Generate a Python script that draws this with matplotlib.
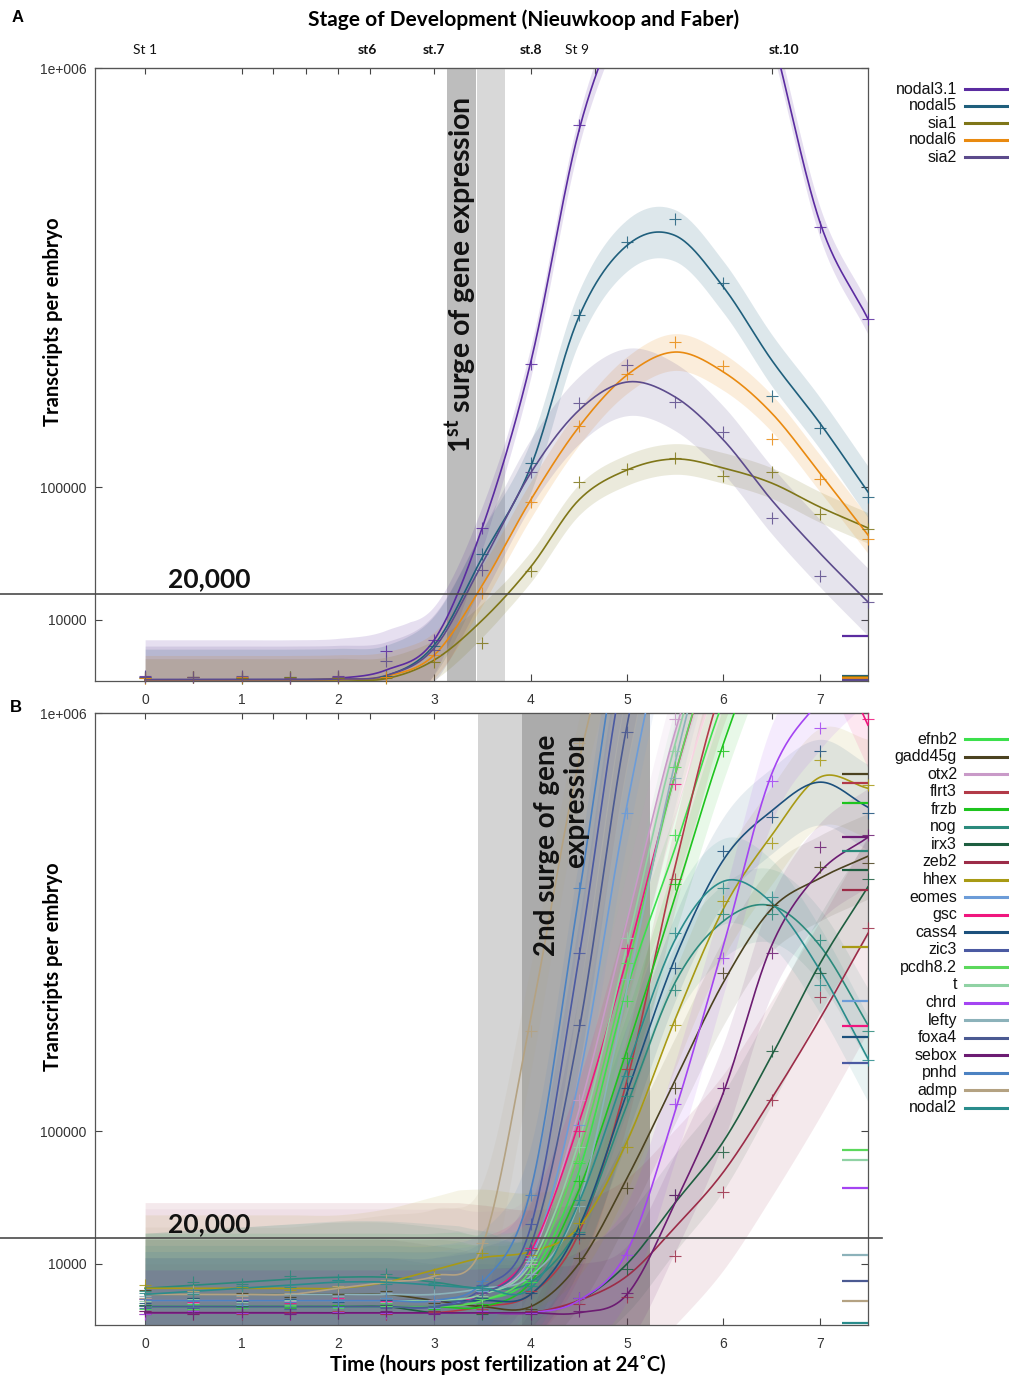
import numpy as np
import matplotlib
matplotlib.use('Agg')
import matplotlib.pyplot as plt
from matplotlib.lines import Line2D

plt.rcParams['font.family'] = ['Liberation Sans', 'DejaVu Sans']
plt.rcParams['mathtext.fontset'] = 'custom'
plt.rcParams['mathtext.rm'] = 'Lato'
plt.rcParams['mathtext.bf'] = 'Lato:bold'

# ---------------- data ----------------
hours = [0, 0.5, 1, 1.5, 2, 2.5, 3, 3.5, 4, 4.5, 5, 5.5, 6, 6.5, 7, 7.5]
hour_ticks = [0, 1, 2, 3, 4, 5, 6, 7]
stage_ticks = [0, 1, 1.33, 1.67, 2, 2.33, 3, 4, 4.67, 6.5]
stage_labels = ['St 1', 'st6', 'st.7', 'st.8', 'St 9', 'st.10']
stage_label_pos = [0, 2.31, 3.0, 4.0, 4.48, 6.63]
stage_label_bold = [False, True, True, True, False, True]
threshold = 20000
y_ticks = [10000, 100000, 1000000]
y_ticklabels = ['10000', '100000', '1e+006']
surge1_A = [(3.13, 3.43, '#bdbdbd'), (3.44, 3.73, '#d8d8d8')]
surge2_B = [(3.45, 3.91, '#d4d4d4'), (3.91, 5.24, '#ababab')]

genes_A = ['nodal3.1', 'nodal5', 'sia1', 'nodal6', 'sia2']
colors_A = ['#5b2ca0', '#1f5f7c', '#7f7618', '#e98a10', '#5c4b8c']
fit_A = [
    [5, 5, 5, 5, 20, 320, 4500, 63000, 270000, 805000, 1250000, 1700000, 1750000, 1120000, 561000, 348700],
    [4, 4, 4, 4, 10, 70, 3450, 40900, 121900, 352600, 505000, 528000, 413000, 274200, 177100, 95100],
    [2, 2, 2, 2, 4, 15, 1170, 9900, 34600, 87200, 118500, 131200, 120700, 104300, 80600, 62300],
    [3, 3, 3, 3, 8, 60, 1800, 24500, 87200, 171700, 249200, 288000, 254100, 191100, 115100, 56700],
    [4, 4, 4, 4, 10, 80, 2900, 37000, 115100, 195000, 237900, 214600, 154600, 87200, 43600, 16600],
]
pts_A = [
    [60, 40, 50, 30, 60, 2400, 4500, 62300, 267400, 822700, 1300000, 1900000, 1800000, 1200000, 548500, 348700],
    [40, 50, 30, 50, 40, 80, 3260, 42900, 126500, 356500, 512900, 568000, 421500, 216100, 170300, 90100],
    [30, 40, 30, 40, 30, 20, 960, 3840, 32200, 105400, 119600, 132300, 111800, 116200, 74200, 61500],
    [30, 50, 40, 30, 50, 40, 1800, 20600, 85300, 173000, 250800, 305800, 264100, 155900, 108600, 53700],
    [50, 40, 60, 30, 50, 1060, 2560, 32800, 116200, 205700, 265700, 207100, 165000, 70700, 29300, 16600],
]
ci_early_A = [0.065, 0.05, 0.035, 0.04, 0.055]   # half-width in sqrt(transcripts / 1e6)
ci_late_A = [0.025, 0.042, 0.025, 0.03, 0.055]
endmark_A = [5390, 80, 43, 17, 3]

genes_B = ['efnb2', 'gadd45g', 'otx2', 'flrt3', 'frzb', 'nog', 'irx3', 'zeb2', 'hhex', 'eomes', 'gsc',
           'cass4', 'zic3', 'pcdh8.2', 't', 'chrd', 'lefty', 'foxa4', 'sebox', 'pnhd', 'admp', 'nodal2']
colors_B = ['#3ce04c', '#4b4220', '#c99ac8', '#b23a48', '#1ec41e', '#2b8a7c', '#1e5e40', '#9c2c48',
            '#a89a14', '#6c9cd8', '#f0167e', '#1c507c', '#4b5aa2', '#5cd85c', '#90d2a4', '#a444f2',
            '#8cb2ba', '#4b5a92', '#6c1c72', '#4c82c2', '#b4a282', '#2a8c8c']
fit_B = [
    [900, 900, 900, 900, 900, 900, 900, 1600, 6400, 62500, 302500, 608400, 1040400, 1440000, 1690000, 1690000],
    [2500, 2500, 2500, 2500, 2500, 2500, 1600, 900, 900, 10000, 57600, 160000, 313600, 462400, 532900, 586800],
    [1600, 1600, 1600, 1600, 1600, 1600, 1600, 2500, 12100, 122500, 435600, 940900, 1440000, 1690000, 1690000, 1562500],
    [400, 400, 400, 400, 400, 400, 400, 900, 2500, 22500, 160000, 562500, 1102500, 1440000, 1440000, 1210000],
    [900, 900, 900, 900, 900, 900, 900, 900, 4900, 48400, 202500, 490000, 902500, 1322500, 1562500, 1690000],
    [3600, 4225, 4900, 5625, 6084, 6084, 4900, 3600, 4900, 25600, 129600, 313600, 435600, 469200, 384400, 240100],
    [900, 900, 900, 900, 900, 900, 400, 400, 400, 1600, 10000, 40000, 90000, 193600, 348100, 512700],
    [400, 400, 400, 400, 400, 400, 400, 400, 400, 1600, 6400, 25600, 62500, 136900, 250000, 409600],
    [3600, 3600, 3600, 3600, 3600, 4900, 8100, 12100, 14400, 25600, 90000, 250000, 462400, 640000, 801000, 769100],
    [900, 900, 900, 900, 900, 900, 900, 2500, 12100, 160000, 722500, 1440000, 1822500, 1822500, 1690000, 1562500],
    [1600, 1600, 1600, 1600, 1600, 1600, 1600, 2500, 14400, 108900, 360000, 810000, 1322500, 1690000, 1322500, 960400],
    [1600, 1600, 1600, 1600, 1600, 1600, 1600, 1600, 2500, 25600, 144400, 360000, 577600, 705600, 786800, 715700],
    [900, 900, 900, 900, 900, 900, 900, 3600, 25600, 360000, 1210000, 1690000, 1960000, 1960000, 1822500, 1690000],
    [900, 900, 900, 900, 900, 900, 900, 1600, 8100, 78400, 336400, 810000, 1322500, 1690000, 1690000, 1690000],
    [1600, 1600, 1600, 1600, 1600, 1600, 1600, 2500, 10000, 90000, 384400, 902500, 1440000, 1690000, 1690000, 1690000],
    [400, 400, 400, 400, 400, 400, 400, 400, 400, 1600, 14400, 122500, 384400, 810000, 1040400, 1210000],
    [2500, 2500, 2500, 2500, 2500, 2500, 2500, 3600, 6400, 40000, 302500, 846400, 1440000, 1690000, 1690000, 1562500],
    [900, 900, 900, 900, 900, 900, 900, 2500, 16900, 230400, 960400, 1690000, 1960000, 1960000, 1822500, 1690000],
    [400, 400, 400, 400, 400, 400, 400, 400, 400, 400, 2500, 40000, 144400, 384400, 547600, 635200],
    [1600, 1600, 1600, 1600, 1600, 1600, 1600, 4900, 48400, 490000, 1440000, 2102500, 2250000, 2250000, 2102500, 1960000],
    [2500, 2500, 2500, 2500, 3600, 4900, 6400, 16900, 250000, 846400, 1440000, 1690000, 1690000, 1562500, 1440000, 1210000],
    [2500, 3025, 3600, 4225, 4900, 4900, 4225, 3600, 3600, 40000, 176400, 396900, 525600, 476100, 336400, 189200],
]
pts_B = [
    [700, 1200, 800, 1000, 900, 1300, 700, 2000, 5000, 70000, 280000, 640000, 1020000, 1500000, 1750000, 1600000],
    [3200, 2000, 2800, 2100, 2600, 3000, 1300, 1100, 700, 12000, 50000, 150000, 330000, 470000, 560000, 570000],
    [2000, 1300, 1800, 1500, 1900, 1400, 1700, 3000, 10000, 135000, 400000, 980000, 1500000, 1650000, 1700000, 1500000],
    [500, 300, 450, 350, 500, 300, 450, 700, 3000, 20000, 175000, 530000, 1150000, 1400000, 1450000, 1250000],
    [1100, 700, 1000, 800, 1100, 900, 700, 1200, 4000, 55000, 190000, 520000, 880000, 1350000, 1700000, 1650000],
    [3000, 5000, 4400, 6500, 5500, 7000, 4200, 4000, 5600, 23000, 140000, 300000, 450000, 450000, 396000, 230000],
    [1100, 800, 1000, 700, 900, 1100, 500, 300, 500, 2000, 8500, 45000, 80000, 200000, 330000, 530000],
    [350, 500, 300, 450, 400, 350, 500, 400, 500, 1200, 2100, 12700, 47200, 135200, 287000, 420000],
    [4200, 3000, 3900, 3300, 4000, 5500, 7000, 14000, 13000, 28000, 85000, 240000, 480000, 620000, 852000, 778000],
    [1000, 800, 1100, 700, 900, 1000, 800, 3000, 12000, 107000, 700000, 1500000, 1800000, 1850000, 1650000, 1500000],
    [1800, 1400, 1700, 1300, 1900, 1500, 1600, 2800, 16000, 100000, 380000, 780000, 1350000, 1650000, 1300000, 980000],
    [1300, 1900, 1500, 1800, 1400, 1700, 1500, 2000, 2800, 22000, 150000, 340000, 600000, 690000, 880000, 700000],
    [800, 1000, 900, 1100, 800, 900, 1000, 4200, 27000, 370000, 1250000, 1700000, 1900000, 2000000, 1800000, 1650000],
    [1000, 700, 900, 1100, 800, 1000, 900, 1800, 9000, 72000, 350000, 830000, 1300000, 1700000, 1650000, 1700000],
    [1500, 1800, 1400, 1700, 1600, 1900, 1500, 2200, 11000, 85000, 400000, 880000, 1450000, 1700000, 1680000, 1700000],
    [300, 500, 400, 350, 450, 400, 300, 500, 400, 2000, 13000, 130000, 360000, 790000, 951000, 1200000],
    [2200, 2800, 2400, 2600, 2300, 2700, 2500, 3200, 7000, 38000, 320000, 800000, 1400000, 1700000, 1650000, 1600000],
    [1000, 800, 900, 700, 1000, 800, 900, 2800, 15000, 240000, 940000, 1650000, 1950000, 1900000, 1850000, 1700000],
    [500, 350, 450, 300, 400, 500, 350, 450, 300, 500, 2800, 45000, 150000, 370000, 610000, 640000],
    [1800, 1500, 1700, 1400, 1600, 1900, 1500, 5200, 45000, 510000, 1400000, 1800000, 2200000, 2300000, 2100000, 1900000],
    [2000, 3000, 2300, 2800, 4000, 5500, 6000, 18000, 230000, 904000, 1400000, 1700000, 1650000, 1600000, 1400000, 1250000],
    [2800, 2600, 4000, 3800, 5500, 4500, 4600, 3200, 4000, 42000, 165000, 410000, 510000, 490000, 309000, 187000],
]
ci_early_B = [0.10, 0.09, 0.15, 0.08, 0.11, 0.09, 0.08, 0.18, 0.12, 0.09, 0.10,
              0.08, 0.08, 0.12, 0.10, 0.07, 0.10, 0.08, 0.07, 0.09, 0.11, 0.10]
ci_late_B = [0.06, 0.07, 0.08, 0.07, 0.06, 0.06, 0.08, 0.16, 0.08, 0.06, 0.07,
             0.07, 0.06, 0.06, 0.06, 0.08, 0.07, 0.06, 0.08, 0.06, 0.07, 0.07]
endmark_B = [None, 810500, None, 784300, 727600, 599800, 552800, 505200, 381500, 280300, 238700,
             221500, 183300, 81700, 72700, 50100, 13100, 5170, 635800, None, 1540, 11]


# ---------------- helpers ----------------
def fwd(v):
    return np.sqrt(np.clip(v, 0, None))


def inv(s):
    return np.square(s)


def smooth(x, y, xn):
    """Catmull-Rom cubic through the knots (drawing only)."""
    x = np.asarray(x, float); y = np.asarray(y, float)
    h = np.diff(x); n = len(x); m = np.zeros(n)
    m[1:-1] = (y[2:] - y[:-2]) / (x[2:] - x[:-2])
    m[0] = (y[1] - y[0]) / h[0]; m[-1] = (y[-1] - y[-2]) / h[-1]
    idx = np.clip(np.searchsorted(x, xn) - 1, 0, n - 2)
    t = (xn - x[idx]) / h[idx]
    h00 = 2 * t**3 - 3 * t**2 + 1; h10 = t**3 - 2 * t**2 + t
    h01 = -2 * t**3 + 3 * t**2; h11 = t**3 - t**2
    return np.clip(h00 * y[idx] + h10 * h[idx] * m[idx] + h01 * y[idx + 1] + h11 * h[idx] * m[idx + 1], 0, None)


W, H = 1009, 1377
fig = plt.figure(figsize=(W / 100, H / 100), dpi=100)
axA = fig.add_axes([95 / W, 1 - 681 / H, 773 / W, 613 / H])
axB = fig.add_axes([95 / W, 1 - 1325 / H, 773 / W, 612 / H])

tt = np.linspace(0, 7.5, 600)
SCALE = 1e6


def draw_panel(ax, genes, colors, fits, pts, ci_e, ci_l, marks, blend, band_alpha):
    ax.set_yscale('function', functions=(fwd, inv))
    ax.set_xlim(-0.52, 7.5)
    ax.set_ylim(0, 1e6)
    curves = []
    for g, c, f, ce, cl in zip(genes, colors, fits, ci_e, ci_l):
        s = smooth(hours, np.sqrt(np.array(f) / SCALE), tt)
        w = np.clip((tt - blend[0]) / (blend[1] - blend[0]), 0, 1)
        ci = ce + (cl - ce) * w
        lo = np.clip(s - ci, 0, None) ** 2 * SCALE
        hi = (s + ci) ** 2 * SCALE
        ax.fill_between(tt, lo, hi, color=c, alpha=band_alpha, lw=0, zorder=2)
        curves.append(s ** 2 * SCALE)
    for c, cv in zip(colors, curves):
        ax.plot(tt, cv, color=c, lw=1.2, zorder=3)
    for c, p in zip(colors, pts):
        p = np.array(p, float)
        keep = p <= 1e6
        ax.plot(np.array(hours)[keep], p[keep], ls='none', marker='+', ms=8, mew=0.8,
                color=c, alpha=0.85, zorder=4, clip_on=False)
    for c, m in zip(colors, marks):
        if m is not None:
            ax.hlines(m, 7.23, 7.5, color=c, lw=1.6, zorder=5)
    ax.axhline(threshold, xmin=-0.123, xmax=1.018, clip_on=False, color='#4a4a4a', lw=1.2, zorder=6)
    ax.set_yticks(y_ticks)
    ax.set_yticklabels(y_ticklabels)
    ax.yaxis.set_minor_locator(matplotlib.ticker.NullLocator())
    ax.set_xticks(hour_ticks)
    ax.set_xticklabels([str(h) for h in hour_ticks])
    ax.tick_params(direction='in', length=5, width=0.8, colors='#333333', labelsize=10,
                   right=True, top=False, color='#444444')
    ax.tick_params(axis='x', pad=9)
    ax.tick_params(axis='y', pad=6)
    for sp in ax.spines.values():
        sp.set_color('#555555'); sp.set_linewidth(0.9)
    sec = ax.secondary_xaxis('top')
    sec.set_xticks(stage_ticks)
    sec.tick_params(direction='in', length=4, width=0.8, labeltop=False, color='#444444')
    sec.spines['top'].set_color('#555555')


draw_panel(axA, genes_A, colors_A, fit_A, pts_A, ci_early_A, ci_late_A, endmark_A, (2.75, 3.75), 0.15)
draw_panel(axB, genes_B, colors_B, fit_B, pts_B, ci_early_B, ci_late_B, endmark_B, (3.25, 4.5), 0.10)

for x0, x1, c in surge1_A:
    axA.axvspan(x0, x1, color=c, lw=0, zorder=1)
for x0, x1, c in surge2_B:
    axB.axvspan(x0, x1, color=c, lw=0, zorder=1)

big = ['Lato', 'DejaVu Sans']
axA.text(0.4735, 0.662, '1$^{\\mathbf{st}}$ surge of gene expression', transform=axA.transAxes,
         rotation=90, ha='center', va='center', fontsize=20.5, fontweight='bold', family=big,
         color='#111111', zorder=7)
axB.text(0.6035, 0.784, '2nd surge of gene\nexpression', transform=axB.transAxes,
         rotation=90, ha='center', va='center', multialignment='right', fontsize=20,
         fontweight='bold', family=big, color='#111111', zorder=7, linespacing=1.15)

for ax, yf in ((axA, 0.147), (axB, 0.146)):
    ax.text(0.0944, yf, '20,000', transform=ax.transAxes, ha='left', va='bottom',
            fontsize=19, fontweight='bold', family=big, color='#111111', zorder=7)

for lab, xp, b in zip(stage_labels, stage_label_pos, stage_label_bold):
    axA.text(xp, 1.029, lab, transform=axA.get_xaxis_transform(), ha='center', va='center',
             fontsize=10, fontweight='bold' if b else 'normal', family=big, color='#111111')

fig.text(524 / W, 1 - 20 / H, 'Stage of Development (Nieuwkoop and Faber)', ha='center', va='center',
         fontsize=15, fontweight='bold', family=big)
fig.text(18 / W, 1 - 17 / H, 'A', ha='center', va='center', fontsize=12, fontweight='bold')
fig.text(16 / W, 1 - 707 / H, 'B', ha='center', va='center', fontsize=12, fontweight='bold')
for yc in (322, 967):
    fig.text(53 / W, 1 - yc / H, 'Transcripts per embryo', rotation=90, ha='center', va='center',
             fontsize=14.5, fontweight='bold', family=big)
fig.text(498 / W, 1 - 1365 / H, 'Time (hours post fertilization at 24˚C)', ha='center', va='center',
         fontsize=14.5, fontweight='bold', family=big)


def legend(genes, colors, y0, dy):
    for i, (g, c) in enumerate(zip(genes, colors)):
        y = 1 - (y0 + i * dy) / H
        fig.text(957 / W, y, g, ha='right', va='center', fontsize=11.5, color='#111111')
        fig.add_artist(Line2D([965 / W, 1007 / W], [y, y], color=c, lw=2.2, transform=fig.transFigure))


legend(genes_A, colors_A, 89, 17)
legend(genes_B, colors_B, 739, 17.57)

fig.savefig('out.png', dpi=100)
